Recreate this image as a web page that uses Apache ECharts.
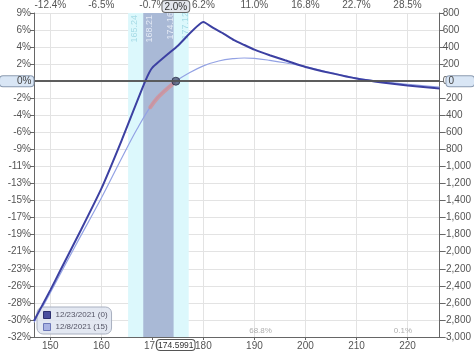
<!DOCTYPE html>
<html><head><meta charset="utf-8">
<script src="https://cdn.jsdelivr.net/npm/echarts@6/dist/echarts.min.js"></script>
<style>html,body{margin:0;padding:0;background:#fff}#c{width:474px;height:353px}</style>
</head><body><div id="c"></div>
<script>
// ---- data ----
const xMin = 146.8, xMax = 226.3;
const yMin = -3000, yMax = 800, yStep = 200;
const currentPrice = 174.5991;
const currentPctLabel = '2.0%';
const expiryName = '12/23/2021 (0)';
const todayName = '12/8/2021 (15)';
// expiration P&L (price, value)
const expiryPrice = [146.8,150,152,156,160,164,168.6,170,175,180,182,184,186,188,190,193,196,200,205,210,215,220,226.3];
const expiryValue = [-2810,-2450,-2215,-1745,-1260,-690,0,160,417,693,622,556,482,425,370,305,245,167,95,31,-15,-50,-85];
// T+0 P&L
const todayPrice = [146.8,150,155,160,164,167,170,172,174.6,177,180,183,186,188,190,193,197,200,205,210,215,220,226.3];
const todayValue = [-2830,-2480,-1920,-1370,-900,-560,-265,-130,0,90,180,237,266,272,268,245,205,172,100,36,-5,-38,-68];
// highlighted segment on T+0 curve
const hiPrice = [169.6,171,172.5,174.2];
const hiValue = [-305,-195,-110,-20];
// std-dev bands
const outerBand = [165.24, 177.12];
const innerBand = [168.21, 174.16];
// tick labels
const topTickValues = [150,160,170,180,190,200,210,220];
const topTickLabels = ['-12.4%','-6.5%','-0.7%','6.2%','11.0%','16.8%','22.7%','28.5%'];
const leftTickLabels = ['9%','6%','4%','2%','0%','-2%','-4%','-6%','-9%','-11%','-13%','-15%','-17%','-19%','-21%','-23%','-26%','-28%','-30%','-32%'];
// probability texts
const probPrice = [191.2, 219.1];
const probValue = [-2924, -2924];
const probLabels = ['68.8%','0.1%'];

const zip = (a,b)=>a.map((v,i)=>[v,b[i]]);
const font = 'Liberation Sans, Arial, sans-serif';
const gridColor = '#e3e3e3';
const axisColor = '#666';
const labelColor = '#555';

const chart = echarts.init(document.getElementById('c'));
const yAxisCommon = {
  type:'value', min:yMin, max:yMax, interval:yStep,
  axisLine:{show:true, lineStyle:{color:axisColor}},
  axisTick:{show:true, length:4, lineStyle:{color:axisColor}},
  splitLine:{show:true, lineStyle:{color:gridColor}},
};
chart.setOption({
  animation:false,
  textStyle:{fontFamily:font},
  axisPointer:{triggerOn:'none'},
  grid:{left:34, right:31, top:12, bottom:16},
  legend:{
    orient:'vertical', left:37, top:307, itemWidth:7, itemHeight:7, itemGap:4,
    icon:'rect', backgroundColor:'rgba(222,228,240,0.85)', borderColor:'#a9b0c0', borderWidth:1,
    borderRadius:6, padding:[4,4,3,6],
    textStyle:{fontSize:8, color:'#556', fontFamily:font},
    data:[{name:expiryName, itemStyle:{color:'#4a4f9e', borderColor:'#2d3070', borderWidth:1}},
          {name:todayName, itemStyle:{color:'#a9b3e3', borderColor:'#6d78b8', borderWidth:1}}]
  },
  xAxis:[{
    type:'value', min:xMin, max:xMax, splitNumber:8, position:'bottom',
    axisLine:{show:true, onZero:false, lineStyle:{color:axisColor}},
    axisTick:{show:true, length:3, lineStyle:{color:axisColor}},
    splitLine:{show:true, lineStyle:{color:gridColor}},
    axisLabel:{showMinLabel:false, showMaxLabel:false, fontSize:10, color:labelColor, margin:4},
    axisPointer:{show:true, status:'show', value:currentPrice, snap:false, triggerTooltip:false,
      lineStyle:{color:'rgba(0,0,0,0)', width:0},
      label:{show:true, formatter:()=>String(currentPrice), backgroundColor:'#fff', borderColor:'#555', borderWidth:1,
        color:'#333', fontSize:8.5, padding:[1,1,0,1], margin:3}}
  },{
    type:'value', min:xMin, max:xMax, splitNumber:8, position:'top',
    axisLine:{show:false}, axisTick:{show:false}, splitLine:{show:false},
    axisLabel:{showMinLabel:false, showMaxLabel:false, fontSize:10, color:labelColor, margin:3,
      formatter:v=>{const i=topTickValues.indexOf(Math.round(v)); return i>=0?topTickLabels[i]:'';}},
    axisPointer:{show:true, status:'show', value:currentPrice, snap:false, triggerTooltip:false,
      lineStyle:{color:'rgba(0,0,0,0)', width:0},
      label:{show:true, formatter:()=>currentPctLabel, backgroundColor:'#e3e6ec', borderColor:'#666', borderWidth:1,
        color:'#333', fontSize:10, padding:[1,2,0,2], margin:1}}
  }],
  yAxis:[Object.assign({}, yAxisCommon, {
    position:'left',
    axisLabel:{fontSize:10, color:labelColor, margin:3,
      formatter:v=>leftTickLabels[Math.round((yMax - v)/yStep)]},
    axisPointer:{show:true, status:'show', value:0, snap:false, triggerTooltip:false,
      lineStyle:{color:'#555', width:1.5, type:'solid'},
      label:{show:true, formatter:()=>'0%', backgroundColor:'#d9e6f5', borderColor:'#8a9ab0', borderWidth:1,
        color:'#444', fontSize:10, padding:[0,2,0,17], margin:8}}
  }), Object.assign({}, yAxisCommon, {
    position:'right',
    axisLabel:{fontSize:10, color:labelColor, margin:3,
      formatter:v=>v.toLocaleString('en-US')},
    axisPointer:{show:true, status:'show', value:0, snap:false, triggerTooltip:false,
      lineStyle:{color:'#555', width:1.5, type:'solid'},
      label:{show:true, formatter:()=>'0', backgroundColor:'#d9e6f5', borderColor:'#8a9ab0', borderWidth:1,
        color:'#444', fontSize:10, padding:[0,20,0,2], margin:9}}
  })],
  series:[
    {type:'line', name:'bands', data:[], z:1, silent:true,
      markArea:{silent:true, data:[
        [{xAxis:outerBand[0], itemStyle:{color:'#dcf8fc'}},{xAxis:outerBand[1]}],
        [{xAxis:innerBand[0], itemStyle:{color:'#a9b9d6'}},{xAxis:innerBand[1]}]
      ]},
      markLine:{silent:true, symbol:'none', lineStyle:{color:'rgba(0,0,0,0)', width:0},
        label:{show:true, fontSize:9, fontFamily:font},
        data:[
          {xAxis:outerBand[0], label:{position:'insideEndBottom', formatter:String(outerBand[0]), color:'#a6dbe6', distance:2}},
          {xAxis:innerBand[0], label:{position:'insideEndBottom', formatter:String(innerBand[0]), color:'#e4eaf5', distance:2}},
          {xAxis:innerBand[1], label:{position:'insideEndTop', formatter:String(innerBand[1]), color:'#e4eaf5', distance:-1}},
          {xAxis:outerBand[1], label:{position:'insideEndTop', formatter:String(outerBand[1]), color:'#a6dbe6', distance:-1}}
        ]}
    },
    {type:'line', name:todayName, data:zip(todayPrice,todayValue), smooth:0.4, showSymbol:false,
      lineStyle:{color:'#93a2e4', width:1.2}, itemStyle:{color:'#a9b3e3'}, z:3},
    {type:'line', name:'hi', data:zip(hiPrice,hiValue), smooth:true, showSymbol:false,
      lineStyle:{color:'rgba(220,140,140,0.7)', width:4, cap:'round'}, z:4},
    {type:'line', name:expiryName, data:zip(expiryPrice,expiryValue), showSymbol:false, smooth:0.15,
      lineStyle:{color:'#3c40a2', width:2}, itemStyle:{color:'#4a4f9e'}, z:5},
    {type:'scatter', name:'cur', data:[[currentPrice,0]], symbol:'circle', symbolSize:8,
      itemStyle:{color:'#4b5678', borderColor:'#2a3048', borderWidth:1}, z:6},
    {type:'scatter', name:'prob', data:zip(probPrice,probValue).map((p,i)=>({value:p, label:{formatter:probLabels[i]}})),
      symbolSize:0, label:{show:true, position:'inside', fontSize:8, color:'#999'}, z:6}
  ]
});
</script></body></html>
